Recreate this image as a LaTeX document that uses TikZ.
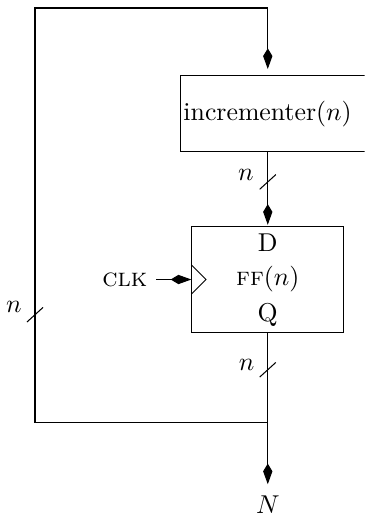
\documentclass[tikz,border=0pt]{standalone}
\usepackage{amsmath}
\usetikzlibrary{positioning, arrows.meta}

\begin{document}
\begin{tikzpicture}
      % Define styles for nodes and wires
      \tikzset{
        incbox/.style={rectangle, draw, anchor=west, minimum height=1.035cm, text width=2.8cm, inner xsep=1.2pt, align=left},
        ffbox/.style={rectangle, draw, minimum width=2.07cm, minimum height=1.443cm},
        sig/.style={-{Kite[length=8pt, width=3.6pt, inset=3pt]}},
        busmark/.style={shorten <=0pt}
      }
      \useasboundingbox (0,0) rectangle (4.97,-7.02);
      \clip (0,0) rectangle (4.97,-7.02);

      % Blocks
      \node[incbox] (inc) at (2.452,-1.553) {incrementer$(n)$};
      \node[ffbox] (ff) at (3.65,-3.81) {\textsc{ff}$(n)$};
      \node (dlab) at ([yshift=-0.22cm]ff.north) {D};
      \node (qlab) at ([yshift=0.245cm]ff.south) {Q};
      \node (clk) at (1.70,-3.81) {\textsc{clk}};
      \node (nout) at (3.65,-6.88) {$N$};

      % Corners of the feedback loop
      \coordinate (jn) at (3.65,-5.76);
      \coordinate (bl) at (0.477,-5.76);
      \coordinate (tl) at (0.477,-0.109);
      \coordinate (tr) at (3.65,-0.109);

      % Wires
      \draw[sig, shorten >=2.5pt] (jn) -- (bl) -- (tl) -- (tr) -- (tr |- inc.north);
      \draw[sig, shorten >=0.5pt] (inc.south -| jn) -- (ff.north);
      \draw[sig] (clk) -- (ff.west);
      \draw (ff.south) -- (jn);
      \draw[sig, shorten >=1pt] (jn) -- (nout.north);

      % Clock input
      \draw ([yshift=0.2cm]ff.west) -- ([xshift=0.2cm]ff.west) -- ([yshift=-0.2cm]ff.west);

      % Bus widths
      \coordinate (s1) at (3.65,-2.48);
      \coordinate (s2) at (3.65,-5.04);
      \coordinate (s3) at (0.477,-4.29);
      \draw ([shift={(-0.11,-0.10)}]s1) -- ([shift={(0.11,0.10)}]s1);
      \draw ([shift={(-0.11,-0.10)}]s2) -- ([shift={(0.11,0.10)}]s2);
      \draw ([shift={(-0.11,-0.10)}]s3) -- ([shift={(0.11,0.10)}]s3);
      \node (n1) at (3.35,-2.38) {$n$};
      \node (n2) at (3.36,-4.97) {$n$};
      \node (n3) at (0.19,-4.19) {$n$};
\end{tikzpicture}
\end{document}
